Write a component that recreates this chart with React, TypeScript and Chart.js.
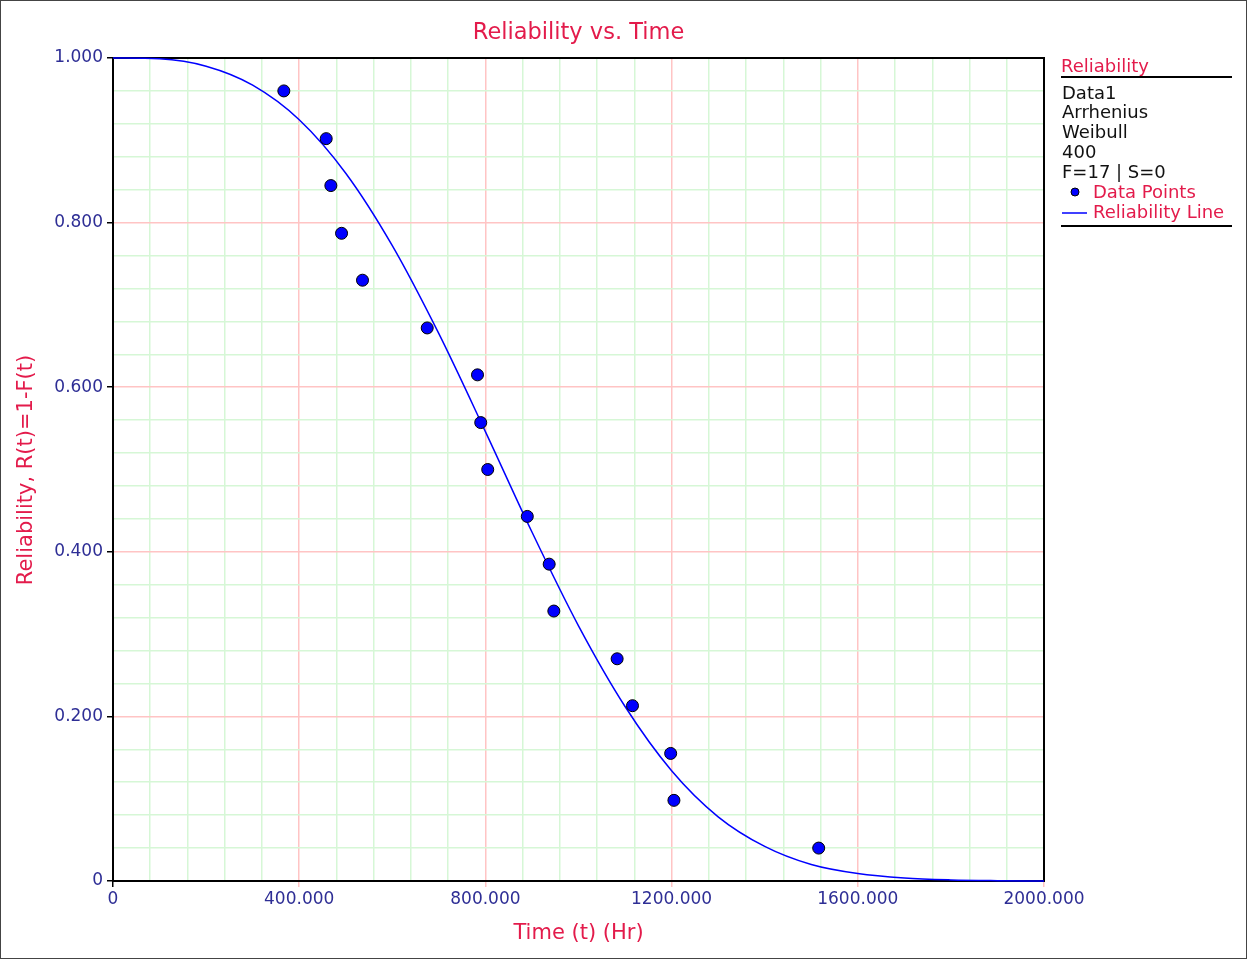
import React, { useEffect, useRef } from "react";
import { Chart, registerables } from "chart.js";

Chart.register(...registerables);

// ---- data ----
const failureTimes = [367, 458, 468, 491, 536, 675, 783, 790, 805, 890, 937, 947, 1083, 1116, 1198, 1205, 1516];
const reliabilityPoints = [0.96, 0.902, 0.845, 0.787, 0.73, 0.672, 0.615, 0.557, 0.5, 0.443, 0.385, 0.328, 0.27, 0.213, 0.155, 0.098, 0.04];

const lineTimes = [0, 100, 200, 300, 400, 500, 600, 700, 800, 900, 1000, 1100, 1200, 1300, 1400, 1500, 1600, 1700, 1800, 1900, 2000];
const lineReliability = [1.0, 0.999, 0.99, 0.967, 0.925, 0.86, 0.772, 0.665, 0.546, 0.424, 0.31, 0.212, 0.134, 0.078, 0.042, 0.02, 0.009, 0.0036, 0.0013, 0.0004, 0.0];

const xTickLabels = ["0", "400.000", "800.000", "1200.000", "1600.000", "2000.000"];
const yTickLabels = ["0", "0.200", "0.400", "0.600", "0.800", "1.000"];

const titleText = "Reliability vs. Time";
const xTitle = "Time (t) (Hr)";
const yTitle = "Reliability, R(t)=1-F(t)";
const legendHeader = "Reliability";
const legendInfo = ["Data1", "Arrhenius", "Weibull", "400", "F=17 | S=0"];
const legendSeries = ["Data Points", "Reliability Line"];

const W = 1247;
const H = 959;
const CRIMSON = "#e31b4b";
const TICK = "#2e2e95";
const FONT = "'DejaVu Sans', Verdana, sans-serif";

const isMajor = (v: number, step: number) => Math.abs(v / step - Math.round(v / step)) < 1e-6;

const decorPlugin = {
  id: "decor",
  beforeDraw(chart: any) {
    const ctx = chart.ctx;
    ctx.save();
    ctx.fillStyle = "#fff";
    ctx.fillRect(0, 0, W, H);
    ctx.strokeStyle = "#444";
    ctx.lineWidth = 1;
    ctx.strokeRect(0.5, 0.5, W - 1, H - 1);
    ctx.restore();
  },
  beforeDatasetsDraw(chart: any) {
    const { ctx, chartArea: a } = chart;
    ctx.save();
    ctx.strokeStyle = "#000";
    ctx.lineWidth = 2;
    ctx.strokeRect(a.left, a.top, a.right - a.left, a.bottom - a.top);
    ctx.restore();
  },
  afterDraw(chart: any) {
    const { ctx, chartArea: a } = chart;
    const cx = (a.left + a.right) / 2;
    ctx.save();
    ctx.textBaseline = "middle";
    // title
    ctx.fillStyle = CRIMSON;
    ctx.textAlign = "center";
    ctx.font = `22.5px ${FONT}`;
    ctx.fillText(titleText, cx, 33);
    // x title
    ctx.font = `21px ${FONT}`;
    ctx.fillText(xTitle, cx, 934);
    // y title
    ctx.save();
    ctx.translate(27, 470);
    ctx.rotate(-Math.PI / 2);
    ctx.fillText(yTitle, 0, 0);
    ctx.restore();

    // legend
    const lx = 1061;
    ctx.textAlign = "left";
    ctx.font = `18px ${FONT}`;
    ctx.fillStyle = CRIMSON;
    ctx.fillText(legendHeader, lx, 67);
    ctx.strokeStyle = "#000";
    ctx.lineWidth = 2;
    ctx.beginPath();
    ctx.moveTo(lx, 77);
    ctx.lineTo(1232, 77);
    ctx.stroke();

    ctx.fillStyle = "#111";
    legendInfo.forEach((t, i) => ctx.fillText(t, lx + 1, 94 + i * 19.8));

    // data points entry
    ctx.beginPath();
    ctx.arc(1075, 192, 4, 0, Math.PI * 2);
    ctx.fillStyle = "#0000ff";
    ctx.fill();
    ctx.strokeStyle = "#000";
    ctx.lineWidth = 1;
    ctx.stroke();
    ctx.fillStyle = CRIMSON;
    ctx.fillText(legendSeries[0], 1093, 193);
    // line entry
    ctx.strokeStyle = "#0000ff";
    ctx.lineWidth = 1.5;
    ctx.beginPath();
    ctx.moveTo(1062, 213);
    ctx.lineTo(1087, 213);
    ctx.stroke();
    ctx.fillText(legendSeries[1], 1093, 213);
    ctx.strokeStyle = "#000";
    ctx.lineWidth = 2;
    ctx.beginPath();
    ctx.moveTo(1061, 226);
    ctx.lineTo(1232, 226);
    ctx.stroke();
    ctx.restore();
  },
};

export default function App() {
  const ref = useRef<HTMLCanvasElement | null>(null);

  useEffect(() => {
    if (!ref.current) return;
    const chart = new Chart(ref.current, {
      type: "scatter",
      data: {
        datasets: [
          {
            label: "Data Points",
            data: failureTimes.map((x, i) => ({ x, y: reliabilityPoints[i] })),
            backgroundColor: "#0000ff",
            borderColor: "#000",
            borderWidth: 1,
            pointRadius: 6,
            pointHoverRadius: 6,
          },
          {
            label: "Reliability Line",
            data: lineTimes.map((x, i) => ({ x, y: lineReliability[i] })),
            showLine: true,
            borderColor: "#0000ff",
            backgroundColor: "#0000ff",
            borderWidth: 1.5,
            pointRadius: 0,
            cubicInterpolationMode: "monotone",
            clip: 3,
          } as any,
        ],
      },
      options: {
        responsive: false,
        animation: false,
        events: [],
        layout: { padding: { left: 0, top: 58, right: W - 1044, bottom: 0 } },
        plugins: {
          legend: { display: false },
          title: { display: false },
          tooltip: { enabled: false },
        },
        scales: {
          x: {
            type: "linear",
            min: 0,
            max: 2000,
            afterFit: (s: any) => {
              s.height = H - 881;
            },
            ticks: {
              stepSize: 80,
              autoSkip: false,
              maxRotation: 0,
              padding: 2,
              color: TICK,
              font: { family: FONT, size: 17 },
              callback: (v: any) => (isMajor(Number(v), 400) ? xTickLabels[Math.round(Number(v) / 400)] : ""),
            },
            grid: {
              color: (c: any) => (isMajor(c.tick.value, 400) ? "#ffc4c4" : "#d6f7d6"),
              lineWidth: 1.5,
              tickLength: 6,
              tickColor: (c: any) =>
                c.tick.value === 0 ? "#000" : isMajor(c.tick.value, 400) ? "#ffc4c4" : "rgba(0,0,0,0)",
            },
            border: { display: true, color: "#000", width: 2 },
          },
          y: {
            type: "linear",
            min: 0,
            max: 1,
            afterFit: (s: any) => {
              s.width = 113;
            },
            ticks: {
              stepSize: 0.04,
              autoSkip: false,
              padding: 4,
              color: TICK,
              font: { family: FONT, size: 17 },
              callback: (v: any) => (isMajor(Number(v), 0.2) ? yTickLabels[Math.round(Number(v) / 0.2)] : ""),
            },
            grid: {
              color: (c: any) => (isMajor(c.tick.value, 0.2) ? "#ffc4c4" : "#d6f7d6"),
              lineWidth: 1.5,
              tickLength: 6,
              tickColor: (c: any) => (isMajor(c.tick.value, 0.2) ? "#000" : "rgba(0,0,0,0)"),
            },
            border: { display: true, color: "#000", width: 2 },
          },
        },
      },
      plugins: [decorPlugin],
    });
    return () => chart.destroy();
  }, []);

  return (
    <div style={{ position: "absolute", left: 0, top: 0, width: W, height: H, background: "#fff" }}>
      <canvas ref={ref} width={W} height={H} style={{ display: "block", width: W, height: H }} />
    </div>
  );
}
